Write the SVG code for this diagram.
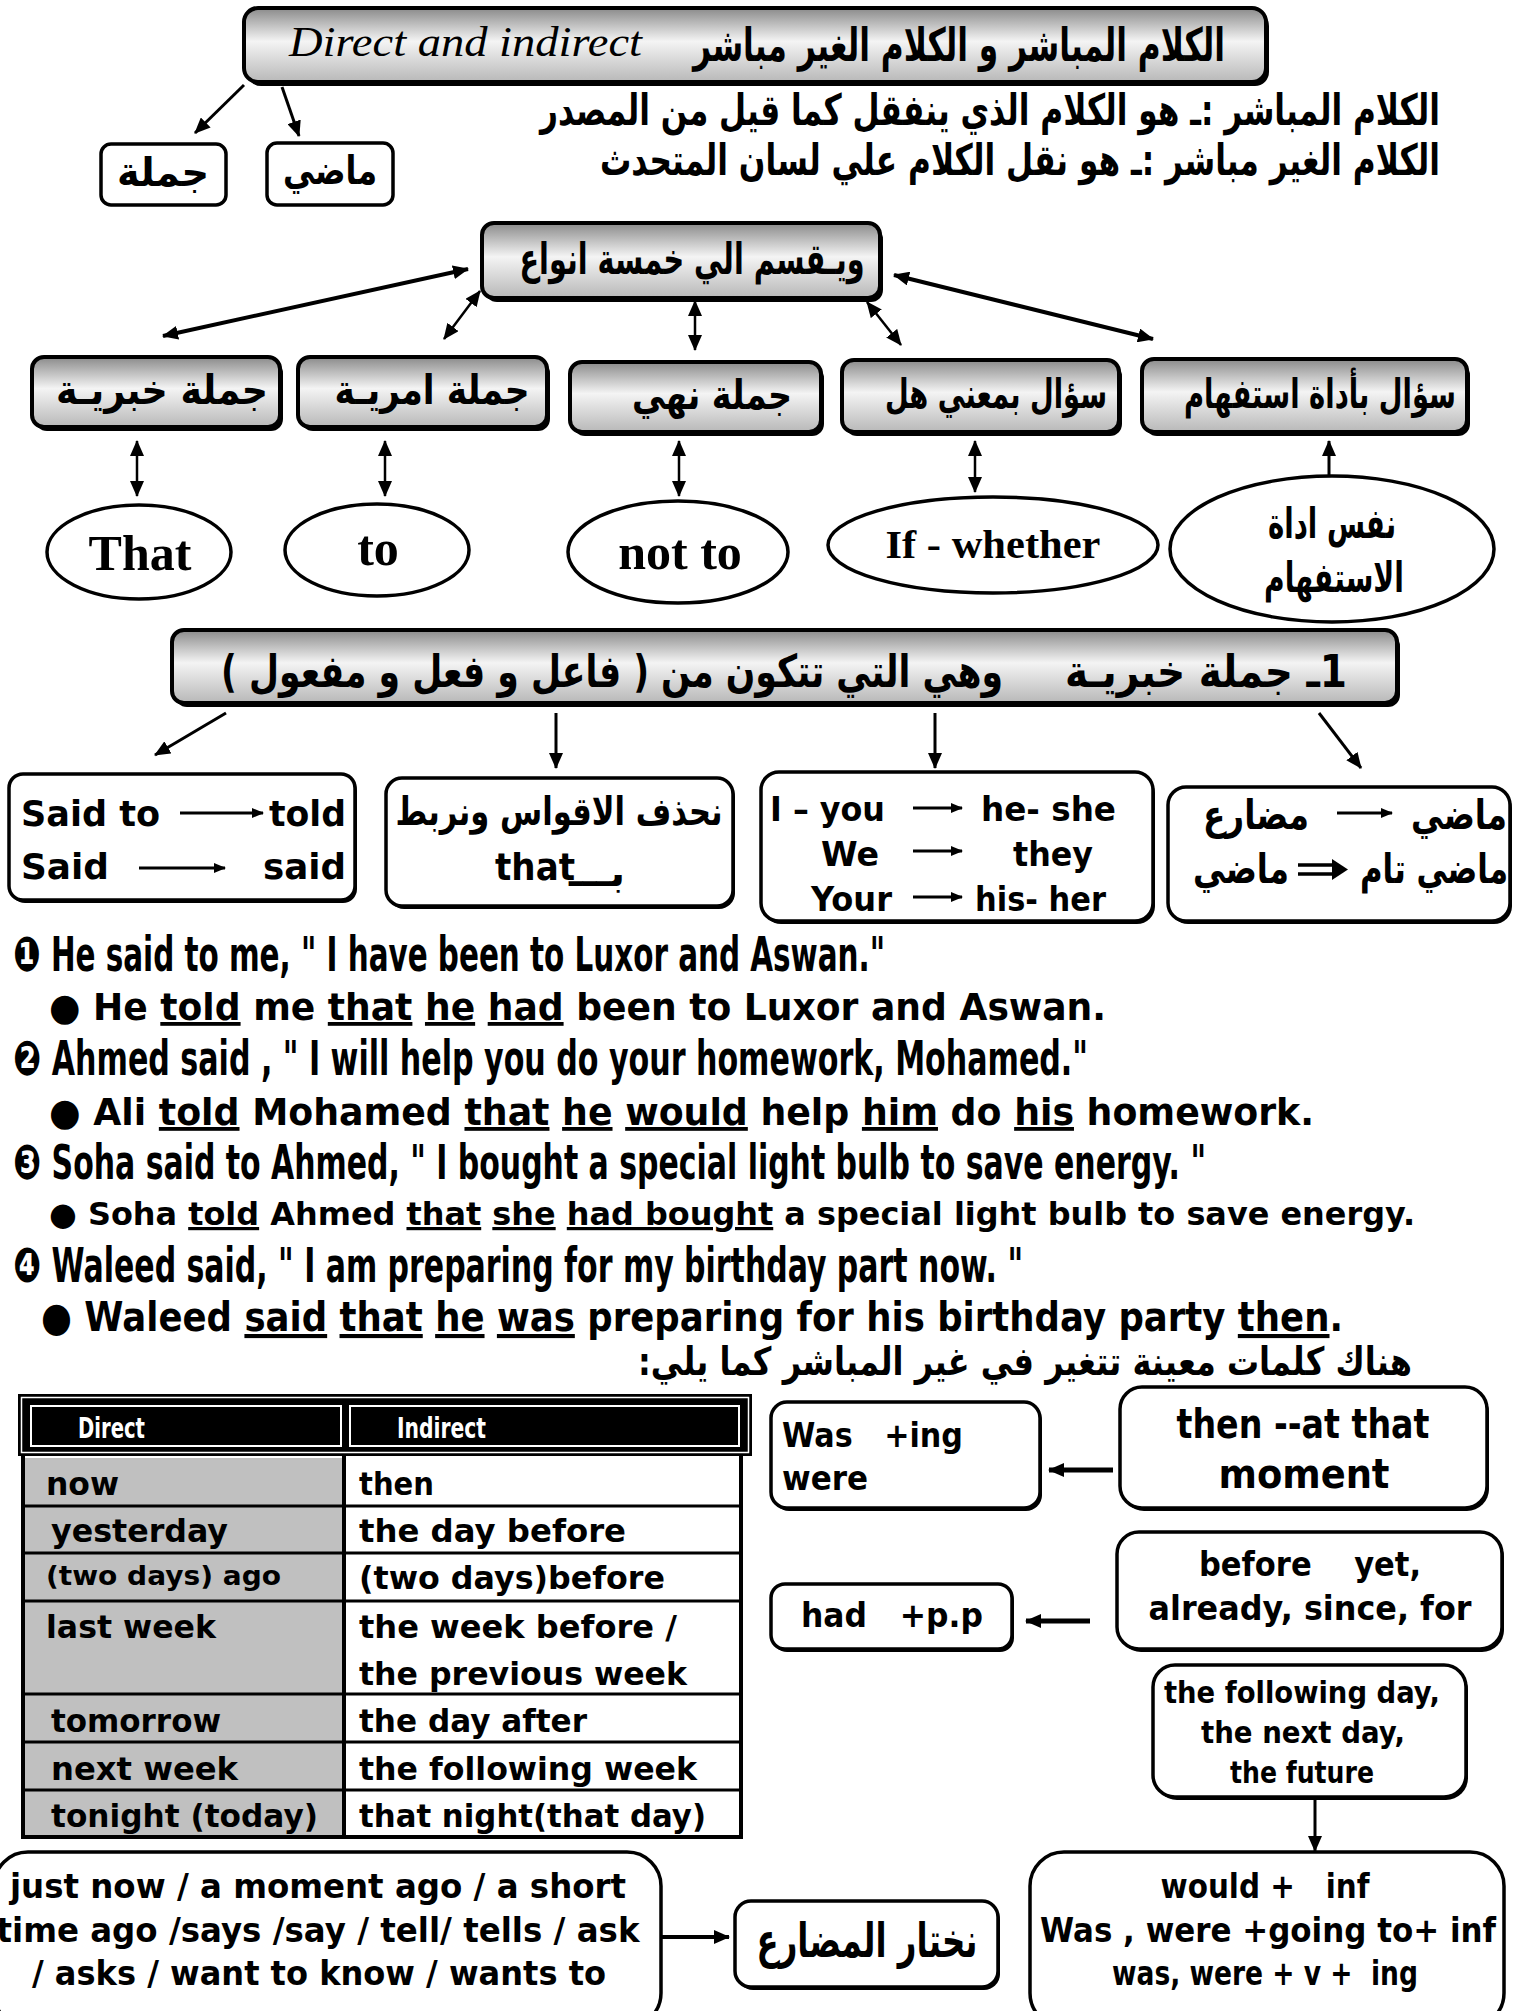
<svg xmlns="http://www.w3.org/2000/svg" width="1514" height="2011" viewBox="0 0 1514 2011">
<defs>
<linearGradient id="gm" x1="0" y1="0" x2="0" y2="1">
<stop offset="0" stop-color="#8a8a8a"/>
<stop offset="0.45" stop-color="#f4f4f4"/>
<stop offset="1" stop-color="#b8b8b8"/>
</linearGradient>
<marker id="ah" viewBox="0 0 16 14" refX="15" refY="7" markerWidth="16" markerHeight="14" markerUnits="userSpaceOnUse" orient="auto-start-reverse"><path d="M0,0 L16,7 L0,14 z" fill="#000"/></marker>
<marker id="ahs" viewBox="0 0 12 10" refX="11" refY="5" markerWidth="12" markerHeight="10" markerUnits="userSpaceOnUse" orient="auto"><path d="M0,0 L12,5 L0,10 z" fill="#000"/></marker>
<style>
.gbox{fill:url(#gm);stroke:#000;stroke-width:4}
.sh{fill:#000}
.box{fill:#fff;stroke:#000;stroke-width:3.5}
.ell{fill:#fff;stroke:#000;stroke-width:3.5}
.ar{font-family:"DejaVu Sans",sans-serif;font-weight:bold;fill:#000}
.en{font-family:"DejaVu Sans",sans-serif;font-weight:bold;fill:#000}
.cd{font-family:"Liberation Sans Narrow","DejaVu Sans Condensed","Liberation Sans",sans-serif;font-weight:bold;fill:#000}
.tm{font-family:"Liberation Serif",serif;font-weight:bold;fill:#000}
.it{font-family:"Liberation Serif",serif;font-style:italic;fill:#000}
.u{text-decoration:underline}
.pre{white-space:pre}
.conn line{stroke:#000;fill:none}
.tl{stroke:#000;stroke-width:3}
</style>
</defs>
<rect width="1514" height="2011" fill="#fff"/>

<g id="connectors" class="conn">
<line x1="244" y1="85" x2="195" y2="133" stroke-width="3" marker-end="url(#ah)"/>
<line x1="282" y1="87" x2="299" y2="136" stroke-width="3" marker-end="url(#ah)"/>
<line x1="468" y1="269" x2="163" y2="336" stroke-width="4" marker-start="url(#ah)" marker-end="url(#ah)"/>
<line x1="480" y1="291" x2="444" y2="339" stroke-width="2.5" marker-start="url(#ah)" marker-end="url(#ah)"/>
<line x1="695" y1="301" x2="695" y2="350" stroke-width="2.5" marker-start="url(#ah)" marker-end="url(#ah)"/>
<line x1="867" y1="302" x2="901" y2="345" stroke-width="2.5" marker-start="url(#ah)" marker-end="url(#ah)"/>
<line x1="894" y1="275" x2="1153" y2="339" stroke-width="4" marker-start="url(#ah)" marker-end="url(#ah)"/>
<line x1="137" y1="441" x2="137" y2="496" stroke-width="2.5" marker-start="url(#ah)" marker-end="url(#ah)"/>
<line x1="385" y1="441" x2="385" y2="496" stroke-width="2.5" marker-start="url(#ah)" marker-end="url(#ah)"/>
<line x1="679" y1="441" x2="679" y2="496" stroke-width="2.5" marker-start="url(#ah)" marker-end="url(#ah)"/>
<line x1="975" y1="441" x2="975" y2="492" stroke-width="2.5" marker-start="url(#ah)" marker-end="url(#ah)"/>
<line x1="1329" y1="476" x2="1329" y2="441" stroke-width="3" marker-end="url(#ah)"/>
<line x1="226" y1="713" x2="155" y2="755" stroke-width="3" marker-end="url(#ah)"/>
<line x1="556" y1="713" x2="556" y2="768" stroke-width="3" marker-end="url(#ah)"/>
<line x1="935" y1="713" x2="935" y2="768" stroke-width="3" marker-end="url(#ah)"/>
<line x1="1319" y1="713" x2="1361" y2="768" stroke-width="3" marker-end="url(#ah)"/>
<line x1="1113" y1="1470" x2="1049" y2="1470" stroke-width="5" marker-end="url(#ah)"/>
<line x1="1090" y1="1621" x2="1026" y2="1621" stroke-width="5" marker-end="url(#ah)"/>
<line x1="1315" y1="1797" x2="1315" y2="1851" stroke-width="3" marker-end="url(#ah)"/>
<line x1="654" y1="1937" x2="729" y2="1937" stroke-width="4" marker-end="url(#ah)"/>
</g>

<g id="title">
<rect class="sh" x="247" y="12" width="1022" height="74" rx="14"/>
<rect class="gbox" x="244" y="8" width="1022" height="74" rx="14"/>
<text class="it" x="289" y="56" font-size="42" textLength="353" lengthAdjust="spacingAndGlyphs">Direct and indirect</text>
<text class="ar" x="959" y="61" font-size="46" text-anchor="middle" direction="rtl" textLength="532" lengthAdjust="spacingAndGlyphs">الكلام المباشر و الكلام الغير مباشر</text>
</g>

<g id="n-jumla">
<rect class="box" x="101" y="144" width="125" height="61" rx="10"/>
<text class="ar" x="163" y="186" font-size="40" text-anchor="middle" direction="rtl" textLength="92" lengthAdjust="spacingAndGlyphs">جملة</text>
</g>
<g id="n-madi">
<rect class="box" x="267" y="143" width="126" height="62" rx="10"/>
<text class="ar" x="330" y="184" font-size="40" text-anchor="middle" direction="rtl" textLength="94" lengthAdjust="spacingAndGlyphs">ماضي</text>
</g>

<g id="definitions">
<text class="ar" x="990" y="125" font-size="43" text-anchor="middle" direction="rtl" textLength="900" lengthAdjust="spacingAndGlyphs">الكلام المباشر :ـ هو الكلام الذي ينفقل كما قيل من المصدر</text>
<text class="ar" x="1020" y="175" font-size="43" text-anchor="middle" direction="rtl" textLength="840" lengthAdjust="spacingAndGlyphs">الكلام الغير مباشر :ـ هو نقل الكلام علي لسان المتحدث</text>
</g>

<g id="n-types">
<rect class="sh" x="485" y="227" width="398" height="75" rx="12"/>
<rect class="gbox" x="482" y="223" width="398" height="75" rx="12"/>
<text class="ar" x="692" y="274" font-size="43" text-anchor="middle" direction="rtl" textLength="345" lengthAdjust="spacingAndGlyphs">ويـقسم الي خمسة انواع</text>
</g>

<g id="n-khabar">
<rect class="sh" x="35" y="361" width="248" height="70" rx="12"/>
<rect class="gbox" x="32" y="357" width="248" height="70" rx="12"/>
<text class="ar" x="162" y="404" font-size="41" text-anchor="middle" direction="rtl" textLength="212" lengthAdjust="spacingAndGlyphs">جملة خبريـة</text>
</g>
<g id="n-amr">
<rect class="sh" x="301" y="361" width="249" height="70" rx="12"/>
<rect class="gbox" x="298" y="357" width="249" height="70" rx="12"/>
<text class="ar" x="432" y="404" font-size="41" text-anchor="middle" direction="rtl" textLength="195" lengthAdjust="spacingAndGlyphs">جملة امريـة</text>
</g>
<g id="n-nahy">
<rect class="sh" x="573" y="366" width="251" height="70" rx="12"/>
<rect class="gbox" x="570" y="362" width="251" height="70" rx="12"/>
<text class="ar" x="712" y="409" font-size="41" text-anchor="middle" direction="rtl" textLength="160" lengthAdjust="spacingAndGlyphs">جملة نهي</text>
</g>
<g id="n-hal">
<rect class="sh" x="845" y="364" width="277" height="72" rx="12"/>
<rect class="gbox" x="842" y="360" width="277" height="72" rx="12"/>
<text class="ar" x="996" y="408" font-size="41" text-anchor="middle" direction="rtl" textLength="222" lengthAdjust="spacingAndGlyphs">سؤال بمعني هل</text>
</g>
<g id="n-istifham">
<rect class="sh" x="1145" y="363" width="325" height="73" rx="12"/>
<rect class="gbox" x="1142" y="359" width="325" height="73" rx="12"/>
<text class="ar" x="1320" y="408" font-size="41" text-anchor="middle" direction="rtl" textLength="272" lengthAdjust="spacingAndGlyphs">سؤال بأداة استفهام</text>
</g>

<g id="e-that">
<ellipse class="ell" cx="139" cy="552" rx="92" ry="47"/>
<text class="tm" x="140" y="570" font-size="50" text-anchor="middle">That</text>
</g>
<g id="e-to">
<ellipse class="ell" cx="377" cy="550" rx="92" ry="46"/>
<text class="tm" x="378" y="565" font-size="50" text-anchor="middle">to</text>
</g>
<g id="e-notto">
<ellipse class="ell" cx="678" cy="552" rx="110" ry="51"/>
<text class="tm" x="680" y="569" font-size="50" text-anchor="middle">not to</text>
</g>
<g id="e-if">
<ellipse class="ell" cx="993" cy="545" rx="165" ry="48"/>
<text class="tm" x="993" y="558" font-size="41" text-anchor="middle" textLength="215" lengthAdjust="spacingAndGlyphs">If - whether</text>
</g>
<g id="e-same">
<ellipse class="ell" cx="1332" cy="549" rx="162" ry="73"/>
<text class="ar" x="1332" y="538" font-size="42" text-anchor="middle" direction="rtl" textLength="128" lengthAdjust="spacingAndGlyphs">نفس اداة</text>
<text class="ar" x="1334" y="592" font-size="42" text-anchor="middle" direction="rtl" textLength="140" lengthAdjust="spacingAndGlyphs">الاستفهام</text>
</g>

<g id="n-section1">
<rect class="sh" x="175" y="634" width="1225" height="73" rx="12"/>
<rect class="gbox" x="172" y="630" width="1225" height="73" rx="12"/>
<text class="ar" x="1206" y="687" font-size="45" text-anchor="middle" direction="rtl" textLength="282" lengthAdjust="spacingAndGlyphs">1ـ جملة خبريـة</text>
<text class="ar" x="612" y="687" font-size="45" text-anchor="middle" direction="rtl" textLength="782" lengthAdjust="spacingAndGlyphs">وهي التي تتكون من ( فاعل و فعل و مفعول )</text>
</g>

<g id="n-said">
<rect class="sh" x="11" y="777" width="346" height="126" rx="14"/>
<rect class="box" x="9" y="774" width="346" height="126" rx="14"/>
<text class="en" x="21" y="826" font-size="36" textLength="139" lengthAdjust="spacingAndGlyphs">Said to</text>
<line class="tl" x1="180" y1="813" x2="263" y2="813" marker-end="url(#ahs)"/>
<text class="en" x="269" y="826" font-size="36" textLength="77" lengthAdjust="spacingAndGlyphs">told</text>
<text class="en" x="21" y="879" font-size="36" textLength="88" lengthAdjust="spacingAndGlyphs">Said</text>
<line class="tl" x1="139" y1="868" x2="225" y2="868" marker-end="url(#ahs)"/>
<text class="en" x="263" y="879" font-size="36" textLength="83" lengthAdjust="spacingAndGlyphs">said</text>
</g>

<g id="n-delete">
<rect class="sh" x="388" y="781" width="347" height="128" rx="16"/>
<rect class="box" x="386" y="778" width="347" height="128" rx="16"/>
<text class="ar" x="559" y="825" font-size="39" text-anchor="middle" direction="rtl" textLength="327" lengthAdjust="spacingAndGlyphs">نحذف الاقواس ونربط</text>
<text class="en" x="495" y="880" font-size="38" textLength="80" lengthAdjust="spacingAndGlyphs">that</text>
<text class="ar" x="597" y="886" font-size="38" text-anchor="middle" direction="rtl" textLength="56" lengthAdjust="spacingAndGlyphs">بـــ</text>
</g>

<g id="n-pronoun">
<rect class="sh" x="763" y="775" width="392" height="149" rx="18"/>
<rect class="box" x="761" y="772" width="392" height="149" rx="18"/>
<text class="en" x="770" y="821" font-size="34" textLength="115" lengthAdjust="spacingAndGlyphs">I – you</text>
<line class="tl" x1="913" y1="808" x2="962" y2="808" marker-end="url(#ahs)"/>
<text class="en" x="981" y="821" font-size="34" textLength="135" lengthAdjust="spacingAndGlyphs">he- she</text>
<text class="en" x="821" y="866" font-size="34" textLength="58" lengthAdjust="spacingAndGlyphs">We</text>
<line class="tl" x1="913" y1="851" x2="962" y2="851" marker-end="url(#ahs)"/>
<text class="en" x="1013" y="866" font-size="34" textLength="80" lengthAdjust="spacingAndGlyphs">they</text>
<text class="en" x="811" y="911" font-size="34" textLength="81" lengthAdjust="spacingAndGlyphs">Your</text>
<line class="tl" x1="913" y1="897" x2="962" y2="897" marker-end="url(#ahs)"/>
<text class="en" x="975" y="911" font-size="34" textLength="131" lengthAdjust="spacingAndGlyphs">his- her</text>
</g>

<g id="n-tense">
<rect class="sh" x="1170" y="790" width="342" height="134" rx="18"/>
<rect class="box" x="1168" y="787" width="342" height="134" rx="18"/>
<text class="ar" x="1459" y="829" font-size="41" text-anchor="middle" direction="rtl" textLength="96" lengthAdjust="spacingAndGlyphs">ماضي</text>
<line class="tl" x1="1337" y1="813" x2="1392" y2="813" marker-end="url(#ahs)"/>
<text class="ar" x="1256" y="829" font-size="41" text-anchor="middle" direction="rtl" textLength="106" lengthAdjust="spacingAndGlyphs">مضارع</text>
<text class="ar" x="1434" y="883" font-size="41" text-anchor="middle" direction="rtl" textLength="148" lengthAdjust="spacingAndGlyphs">ماضي تام</text>
<path d="M1298,865 H1334 M1298,874 H1334" stroke="#000" stroke-width="3.5" fill="none"/>
<path d="M1332,859 L1348,869.5 L1332,880 z" fill="#000"/>
<text class="ar" x="1241" y="883" font-size="41" text-anchor="middle" direction="rtl" textLength="96" lengthAdjust="spacingAndGlyphs">ماضي</text>
</g>

<g id="examples">
<text class="cd" x="13" y="971" font-size="48" textLength="872" lengthAdjust="spacingAndGlyphs"><tspan font-family="DejaVu Sans">❶</tspan> He said to me, " I have been to Luxor and Aswan."</text>
<text class="en" x="49" y="1020" font-size="38" textLength="1057" lengthAdjust="spacingAndGlyphs">● He <tspan class="u">told</tspan> me <tspan class="u">that</tspan> <tspan class="u">he</tspan> <tspan class="u">had</tspan> been to Luxor and Aswan.</text>
<text class="cd" x="13" y="1075" font-size="48" textLength="1075" lengthAdjust="spacingAndGlyphs"><tspan font-family="DejaVu Sans">❷</tspan> Ahmed said , " I will help you do your homework, Mohamed."</text>
<text class="en" x="49" y="1125" font-size="38" textLength="1265" lengthAdjust="spacingAndGlyphs">● Ali <tspan class="u">told</tspan> Mohamed <tspan class="u">that</tspan> <tspan class="u">he</tspan> <tspan class="u">would</tspan> help <tspan class="u">him</tspan> do <tspan class="u">his</tspan> homework.</text>
<text class="cd" x="13" y="1179" font-size="48" textLength="1193" lengthAdjust="spacingAndGlyphs"><tspan font-family="DejaVu Sans">❸</tspan> Soha said to Ahmed, " I bought a special light bulb to save energy. "</text>
<text class="en" x="49" y="1225" font-size="32" textLength="1366" lengthAdjust="spacingAndGlyphs">● Soha <tspan class="u">told</tspan> Ahmed <tspan class="u">that</tspan> <tspan class="u">she</tspan> <tspan class="u">had bought</tspan> a special light bulb to save energy.</text>
<text class="cd" x="13" y="1282" font-size="48" textLength="1010" lengthAdjust="spacingAndGlyphs"><tspan font-family="DejaVu Sans">❹</tspan> Waleed said, " I am preparing for my birthday part now. "</text>
<text class="en" x="41" y="1331" font-size="41" textLength="1302" lengthAdjust="spacingAndGlyphs">● Waleed <tspan class="u">said</tspan> <tspan class="u">that</tspan> <tspan class="u">he</tspan> <tspan class="u">was</tspan> preparing for his birthday party <tspan class="u">then</tspan>.</text>
<text class="ar" x="1025" y="1375" font-size="39" text-anchor="middle" direction="rtl" textLength="774" lengthAdjust="spacingAndGlyphs">هناك كلمات معينة تتغير في غير المباشر كما يلي:</text>
</g>

<g id="table">
<rect x="18" y="1394" width="734" height="62" fill="#000"/>
<rect x="21.5" y="1397.5" width="727" height="55" fill="none" stroke="#fff" stroke-width="1.5"/>
<rect x="31" y="1406" width="310" height="40" fill="none" stroke="#fff" stroke-width="2"/>
<rect x="350" y="1406" width="389" height="40" fill="none" stroke="#fff" stroke-width="2"/>
<text class="cd" x="78" y="1438" font-size="29" style="fill:#fff" textLength="67" lengthAdjust="spacingAndGlyphs">Direct</text>
<text class="cd" x="397" y="1438" font-size="29" style="fill:#fff" textLength="89" lengthAdjust="spacingAndGlyphs">Indirect</text>
<rect x="23" y="1458" width="321" height="379" fill="#c0c0c0"/>
<rect x="344" y="1458" width="397" height="379" fill="#fff"/>
<g stroke="#000" stroke-width="3">
<line x1="23" y1="1506" x2="741" y2="1506"/>
<line x1="23" y1="1553" x2="741" y2="1553"/>
<line x1="23" y1="1601" x2="741" y2="1601"/>
<line x1="23" y1="1694" x2="741" y2="1694"/>
<line x1="23" y1="1742" x2="741" y2="1742"/>
<line x1="23" y1="1790" x2="741" y2="1790"/>
</g>
<g stroke="#000" stroke-width="4">
<line x1="23" y1="1456" x2="23" y2="1839"/>
<line x1="344" y1="1456" x2="344" y2="1839"/>
<line x1="741" y1="1456" x2="741" y2="1839"/>
<line x1="21" y1="1837" x2="743" y2="1837"/>
</g>
<text class="en" x="46" y="1495" font-size="32" textLength="73" lengthAdjust="spacingAndGlyphs">now</text>
<text class="en" x="51" y="1542" font-size="32" textLength="177" lengthAdjust="spacingAndGlyphs">yesterday</text>
<text class="en" x="46" y="1585" font-size="27" textLength="235" lengthAdjust="spacingAndGlyphs">(two days) ago</text>
<text class="en" x="46" y="1638" font-size="32" textLength="170" lengthAdjust="spacingAndGlyphs">last week</text>
<text class="en" x="51" y="1732" font-size="32" textLength="170" lengthAdjust="spacingAndGlyphs">tomorrow</text>
<text class="en" x="51" y="1780" font-size="32" textLength="187" lengthAdjust="spacingAndGlyphs">next week</text>
<text class="en" x="51" y="1827" font-size="32" textLength="267" lengthAdjust="spacingAndGlyphs">tonight (today)</text>
<text class="en" x="359" y="1495" font-size="32" textLength="75" lengthAdjust="spacingAndGlyphs">then</text>
<text class="en" x="359" y="1542" font-size="32" textLength="267" lengthAdjust="spacingAndGlyphs">the day before</text>
<text class="en" x="359" y="1589" font-size="32" textLength="306" lengthAdjust="spacingAndGlyphs">(two days)before</text>
<text class="en" x="359" y="1638" font-size="32" textLength="318" lengthAdjust="spacingAndGlyphs">the week before /</text>
<text class="en" x="359" y="1685" font-size="32" textLength="328" lengthAdjust="spacingAndGlyphs">the previous week</text>
<text class="en" x="359" y="1732" font-size="32" textLength="228" lengthAdjust="spacingAndGlyphs">the day after</text>
<text class="en" x="359" y="1780" font-size="32" textLength="338" lengthAdjust="spacingAndGlyphs">the following week</text>
<text class="en" x="359" y="1827" font-size="32" textLength="347" lengthAdjust="spacingAndGlyphs">that night(that day)</text>
</g>

<g id="n-wasing">
<rect class="sh" x="773" y="1405" width="269" height="106" rx="16"/>
<rect class="box" x="771" y="1402" width="269" height="106" rx="16"/>
<text class="en pre" x="782" y="1447" font-size="34" textLength="181" lengthAdjust="spacingAndGlyphs">Was   +ing</text>
<text class="en" x="782" y="1490" font-size="34" textLength="86" lengthAdjust="spacingAndGlyphs">were</text>
</g>
<g id="n-then">
<rect class="sh" x="1122" y="1390" width="367" height="121" rx="22"/>
<rect class="box" x="1120" y="1387" width="367" height="121" rx="22"/>
<text class="en" x="1303" y="1438" font-size="40" text-anchor="middle" textLength="253" lengthAdjust="spacingAndGlyphs">then --at that</text>
<text class="en" x="1304" y="1488" font-size="40" text-anchor="middle" textLength="171" lengthAdjust="spacingAndGlyphs">moment</text>
</g>
<g id="n-had">
<rect class="sh" x="773" y="1587" width="241" height="65" rx="14"/>
<rect class="box" x="771" y="1584" width="241" height="65" rx="14"/>
<text class="en pre" x="892" y="1627" font-size="34" text-anchor="middle" textLength="182" lengthAdjust="spacingAndGlyphs">had   +p.p</text>
</g>
<g id="n-before">
<rect class="sh" x="1119" y="1535" width="385" height="117" rx="22"/>
<rect class="box" x="1117" y="1532" width="385" height="117" rx="22"/>
<text class="en pre" x="1310" y="1576" font-size="34" text-anchor="middle" textLength="222" lengthAdjust="spacingAndGlyphs">before    yet,</text>
<text class="en" x="1310" y="1620" font-size="34" text-anchor="middle" textLength="323" lengthAdjust="spacingAndGlyphs">already, since, for</text>
</g>
<g id="n-following">
<rect class="sh" x="1155" y="1668" width="313" height="132" rx="22"/>
<rect class="box" x="1153" y="1665" width="313" height="132" rx="22"/>
<text class="en" x="1302" y="1703" font-size="30" text-anchor="middle" textLength="276" lengthAdjust="spacingAndGlyphs">the following day,</text>
<text class="en" x="1303" y="1743" font-size="30" text-anchor="middle" textLength="204" lengthAdjust="spacingAndGlyphs">the next day,</text>
<text class="en" x="1302" y="1783" font-size="30" text-anchor="middle" textLength="144" lengthAdjust="spacingAndGlyphs">the future</text>
</g>
<g id="n-would">
<rect class="box" x="1030" y="1852" width="474" height="175" rx="34"/>
<text class="en pre" x="1265" y="1898" font-size="34" text-anchor="middle" textLength="209" lengthAdjust="spacingAndGlyphs">would +   inf</text>
<text class="en" x="1268" y="1942" font-size="34" text-anchor="middle" textLength="456" lengthAdjust="spacingAndGlyphs">Was , were +going to+ inf</text>
<text class="en pre" x="1265" y="1985" font-size="34" text-anchor="middle" textLength="306" lengthAdjust="spacingAndGlyphs">was, were + v +  ing</text>
</g>
<g id="n-justnow">
<rect class="box" x="-6" y="1852" width="667" height="175" rx="34"/>
<text class="en" x="318" y="1898" font-size="34" text-anchor="middle" textLength="616" lengthAdjust="spacingAndGlyphs">just now / a moment ago / a short</text>
<text class="en" x="318" y="1942" font-size="34" text-anchor="middle" textLength="643" lengthAdjust="spacingAndGlyphs">time ago /says /say / tell/ tells / ask</text>
<text class="en" x="319" y="1985" font-size="34" text-anchor="middle" textLength="574" lengthAdjust="spacingAndGlyphs">/ asks / want to know / wants to</text>
</g>
<g id="n-mudari">
<rect class="sh" x="737" y="1904" width="263" height="86" rx="16"/>
<rect class="box" x="735" y="1901" width="263" height="86" rx="16"/>
<text class="ar" x="867" y="1957" font-size="48" text-anchor="middle" direction="rtl" textLength="221" lengthAdjust="spacingAndGlyphs">نختار المضارع</text>
</g>
</svg>
